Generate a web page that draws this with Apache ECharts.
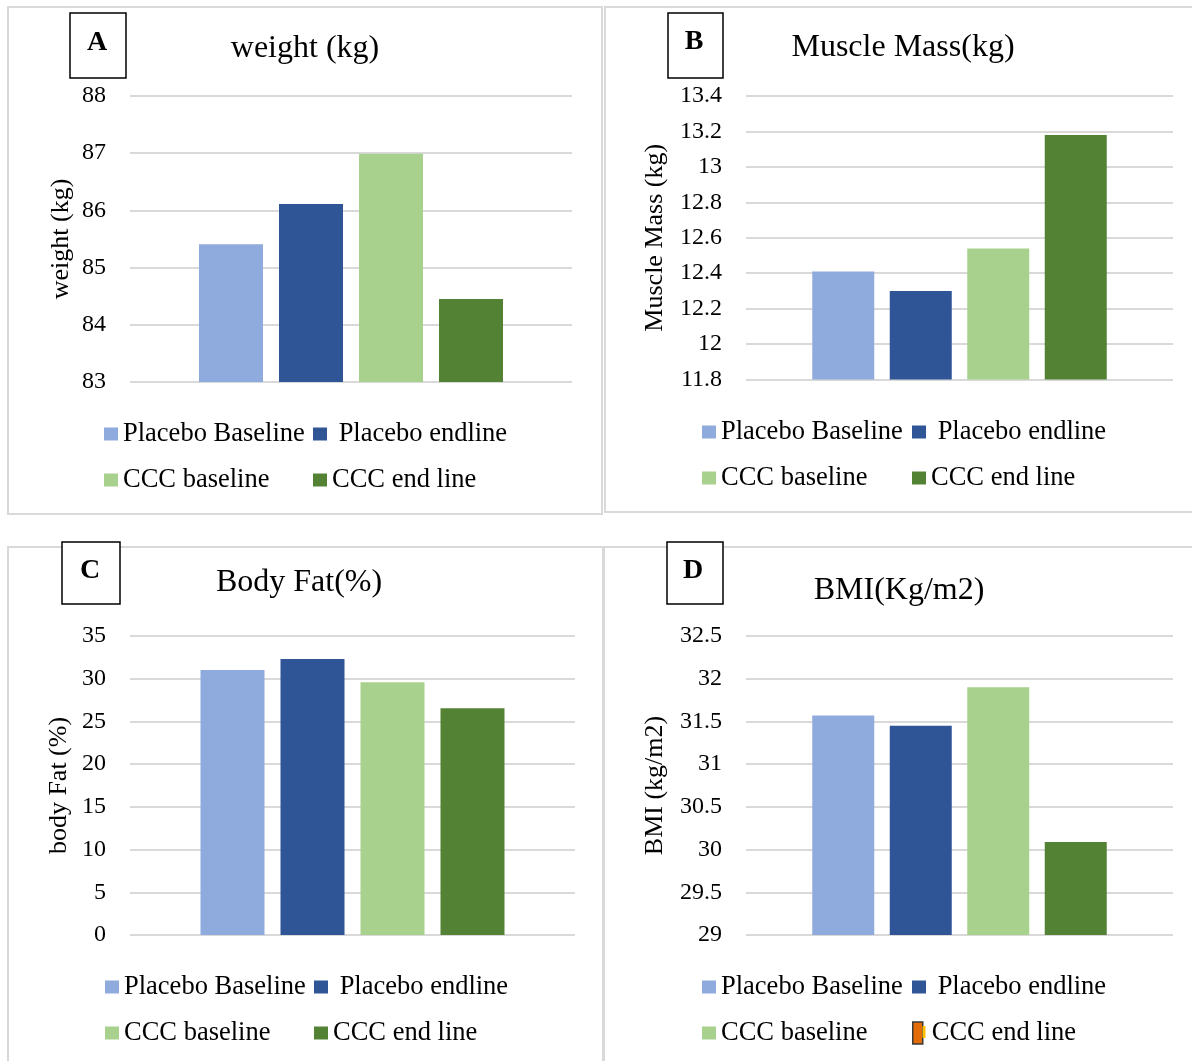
<!DOCTYPE html>
<html>
<head>
<meta charset="utf-8">
<script src="https://cdn.jsdelivr.net/npm/echarts@6/dist/echarts.min.js"></script>
<style>
html,body{margin:0;padding:0;background:#fff;}
#chart{width:1192px;height:1061px;}
</style>
</head>
<body>
<div id="chart"></div>
<script>
// ---------- DATA ----------
const categories = ['Placebo Baseline', 'Placebo endline', 'CCC baseline', 'CCC end line'];
const weightValues = [85.41, 86.11, 86.99, 84.45];
const muscleValues = [12.41, 12.30, 12.54, 13.18];
const bodyFatValues = [31.03, 32.30, 29.60, 26.55];
const bmiValues = [31.57, 31.45, 31.90, 30.09];
const weightTicks = [83, 84, 85, 86, 87, 88];
const muscleTicks = [11.8, 12, 12.2, 12.4, 12.6, 12.8, 13, 13.2, 13.4];
const bodyFatTicks = [0, 5, 10, 15, 20, 25, 30, 35];
const bmiTicks = [29, 29.5, 30, 30.5, 31, 31.5, 32, 32.5];
const panelLetters = ['A', 'B', 'C', 'D'];
const panelTitles = ['weight (kg)', 'Muscle Mass(kg)', 'Body Fat(%)', 'BMI(Kg/m2)'];
const axisNames = ['weight (kg)', 'Muscle Mass (kg)', 'body Fat (%)', 'BMI (kg/m2)'];

// ---------- STYLE / LAYOUT ----------
const FONT = '"Liberation Serif", "Times New Roman", Times, serif';
const barColors = ['#8faadc', '#2f5597', '#a9d18e', '#548235'];
const layouts = [
  {grid: {left: 130, top: 96, width: 442, height: 286}, barWidth: 64, nameGap: 56,
   border: [8, 7, 594, 507], box: [70, 13, 56, 65], letter: [97, 43], title: [305, 49],
   legendTop: 420, col1: 104, col2: 313},
  {grid: {left: 746, top: 96, width: 427, height: 283.5}, barWidth: 62, nameGap: 78,
   border: [605, 7, 600, 505], box: [668, 13, 55, 65], letter: [694, 42], title: [903, 48],
   legendTop: 418, col1: 702, col2: 912},
  {grid: {left: 130, top: 636, width: 445, height: 299}, barWidth: 64, nameGap: 58,
   border: [8, 547, 595, 600], box: [62, 542, 58, 62], letter: [90, 571], title: [299, 583],
   legendTop: 973, col1: 105, col2: 314},
  {grid: {left: 746, top: 636, width: 427, height: 299}, barWidth: 62, nameGap: 78,
   border: [604, 547, 600, 600], box: [667, 542, 56, 62], letter: [693, 571], title: [899, 591],
   legendTop: 973, col1: 702, col2: 912}
];
const datasets = [weightValues, muscleValues, bodyFatValues, bmiValues];
const tickSets = [weightTicks, muscleTicks, bodyFatTicks, bmiTicks];

const grids = [], xAxes = [], yAxes = [], series = [], legends = [], graphics = [];
const legendText = {fontFamily: FONT, fontSize: 26.5, color: '#000', lineHeight: 28};
const legendFormatter = function (name) {
  return name === 'Placebo endline' ? ' ' + name : name;
};

layouts.forEach((L, p) => {
  grids.push(L.grid);
  xAxes.push({
    type: 'category', gridIndex: p, data: [''],
    axisLine: {show: false}, axisTick: {show: false}, axisLabel: {show: false}
  });
  const ticks = tickSets[p];
  yAxes.push({
    type: 'value', gridIndex: p,
    min: ticks[0], max: ticks[ticks.length - 1],
    interval: +(ticks[1] - ticks[0]).toFixed(4),
    name: axisNames[p], nameLocation: 'middle', nameGap: L.nameGap,
    nameTextStyle: {fontFamily: FONT, fontSize: 26, color: '#000'},
    axisLine: {show: false}, axisTick: {show: false},
    axisLabel: {fontFamily: FONT, fontSize: 24, color: '#000', margin: 24},
    splitLine: {lineStyle: {color: '#d9d9d9', width: 2}}
  });
  categories.forEach((c, i) => {
    series.push({
      type: 'bar', name: c, xAxisIndex: p, yAxisIndex: p,
      data: [datasets[p][i]], barWidth: L.barWidth, barGap: '25%',
      itemStyle: {color: barColors[i]}, silent: true
    });
  });
  const legendBase = {
    orient: 'vertical', padding: 0, itemGap: 18, itemWidth: 14, itemHeight: 13,
    icon: 'rect', selectedMode: false, formatter: legendFormatter,
    textStyle: legendText
  };
  legends.push(Object.assign({}, legendBase, {
    left: L.col1, top: L.legendTop, data: [categories[0], categories[2]]
  }));
  if (p < 3) {
    legends.push(Object.assign({}, legendBase, {
      left: L.col2, top: L.legendTop, data: [categories[1], categories[3]]
    }));
  } else {
    legends.push(Object.assign({}, legendBase, {
      left: L.col2, top: L.legendTop, data: [categories[1]]
    }));
    legends.push(Object.assign({}, legendBase, {
      left: L.col2, top: L.legendTop + 46, itemWidth: 10, itemHeight: 22,
      textStyle: Object.assign({}, legendText, {padding: [0, 0, 0, 4]}),
      data: [{name: categories[3], itemStyle: {color: '#e36c09', borderColor: '#3a3a3a', borderWidth: 1.5}}]
    }));
  }
  // panel border
  graphics.push({
    type: 'rect', silent: true, z: 0,
    shape: {x: L.border[0], y: L.border[1], width: L.border[2], height: L.border[3]},
    style: {fill: 'none', stroke: '#d9d9d9', lineWidth: 2}
  });
  // letter box
  graphics.push({
    type: 'rect', silent: true, z: 10,
    shape: {x: L.box[0], y: L.box[1], width: L.box[2], height: L.box[3]},
    style: {fill: '#fff', stroke: '#000', lineWidth: 1.5}
  });
  graphics.push({
    type: 'text', silent: true, z: 11,
    x: L.letter[0], y: L.letter[1],
    style: {text: panelLetters[p], fontFamily: FONT, fontSize: 28, fontWeight: 'bold',
            fill: '#000', align: 'center', verticalAlign: 'middle'}
  });
  graphics.push({
    type: 'text', silent: true, z: 11,
    x: L.title[0], y: L.title[1],
    style: {text: panelTitles[p], fontFamily: FONT, fontSize: 32,
            fill: '#000', align: 'center', verticalAlign: 'middle'}
  });
});
// small yellow strip next to the D legend marker
graphics.push({
  type: 'rect', silent: true, z: 12,
  shape: {x: 922.5, y: 1026, width: 3, height: 12},
  style: {fill: '#ffc000'}
});

const chart = echarts.init(document.getElementById('chart'), null, {renderer: 'canvas'});
chart.setOption({
  backgroundColor: '#fff',
  animation: false,
  grid: grids,
  xAxis: xAxes,
  yAxis: yAxes,
  legend: legends,
  series: series,
  graphic: graphics
});
</script>
</body>
</html>
